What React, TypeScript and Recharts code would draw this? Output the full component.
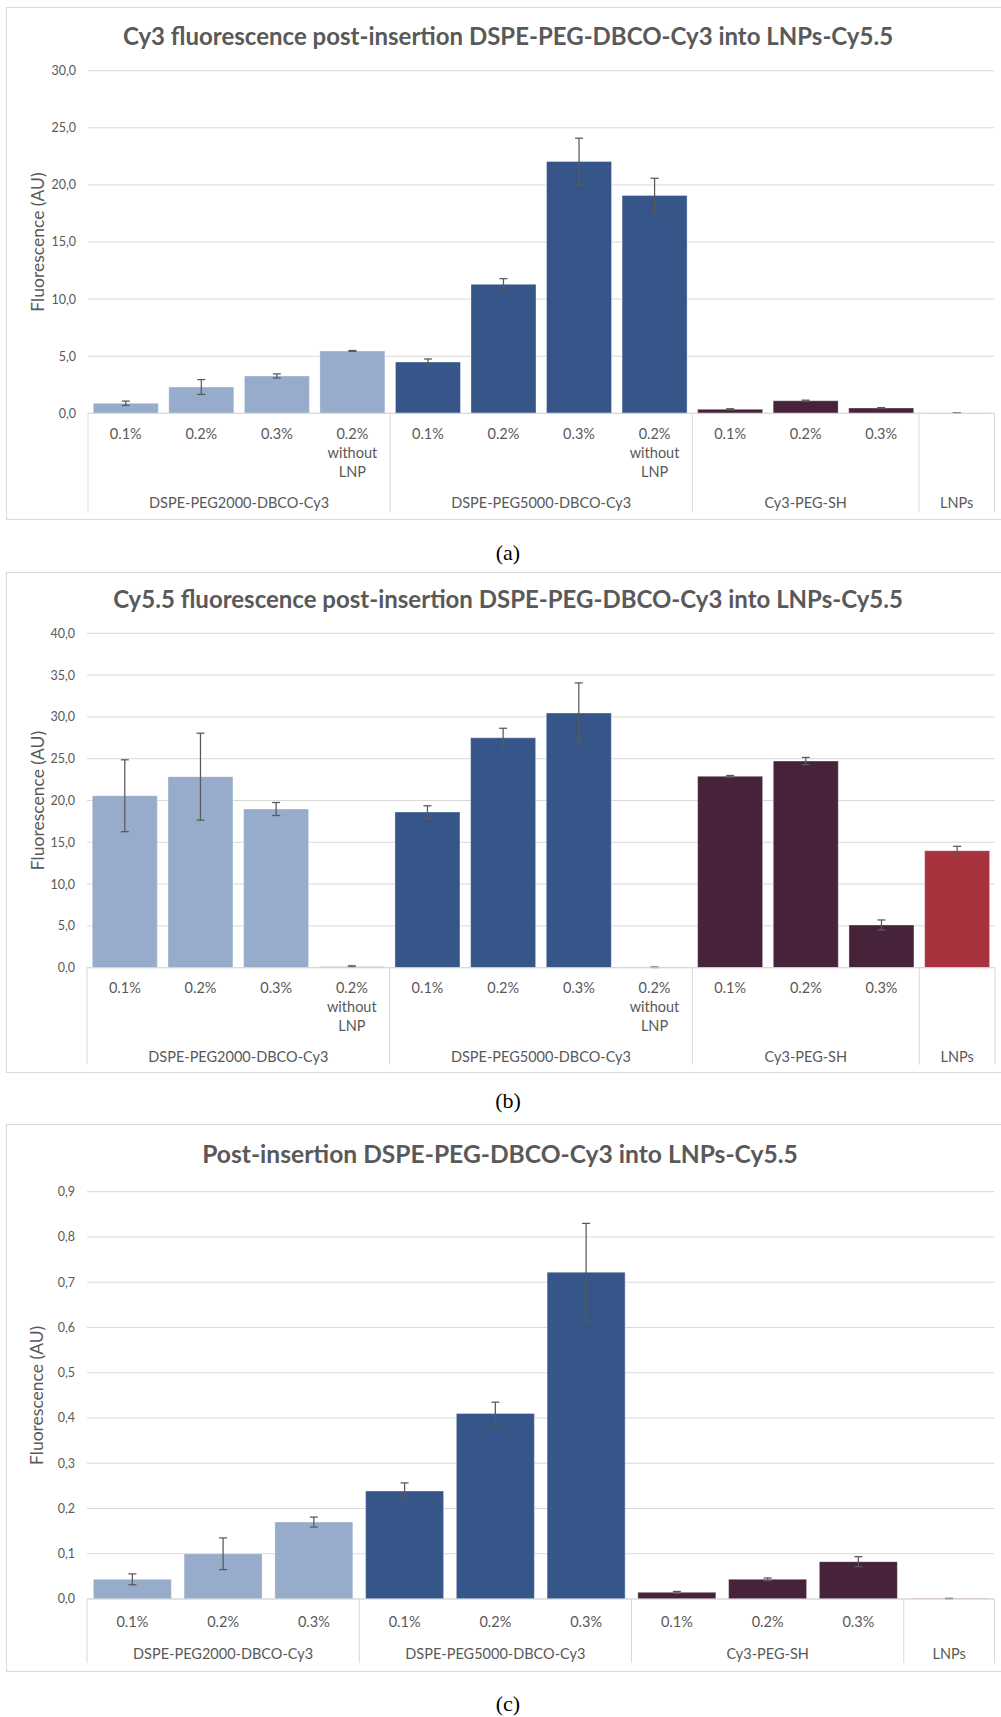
import React from "react";
import {
  BarChart,
  Bar,
  XAxis,
  YAxis,
  CartesianGrid,
  ErrorBar,
  Cell,
} from "recharts";

const FONT = "Lato, 'Open Sans', sans-serif";
const TEXT = "#595959";
const GRID = "#d9d9d9";
const GROUP_COLORS = ["#96acca", "#365589", "#46233a", "#a8333e"];

const groupNames = [
  "DSPE-PEG2000-DBCO-Cy3",
  "DSPE-PEG5000-DBCO-Cy3",
  "Cy3-PEG-SH",
  "LNPs",
];

// (a) Cy3 fluorescence
const labelsA = [
  "0.1%", "0.2%", "0.3%", "0.2%\nwithout\nLNP",
  "0.1%", "0.2%", "0.3%", "0.2%\nwithout\nLNP",
  "0.1%", "0.2%", "0.3%",
  "",
];
const groupOfA = [0, 0, 0, 0, 1, 1, 1, 1, 2, 2, 2, 3];
const valuesA = [0.88, 2.3, 3.27, 5.46, 4.49, 11.29, 22.05, 19.08, 0.35, 1.1, 0.46, 0.02];
const errorsA = [0.19, 0.65, 0.18, 0.04, 0.27, 0.5, 2.04, 1.5, 0.05, 0.05, 0.04, 0.01];
const ticksA = [0, 5, 10, 15, 20, 25, 30];

// (b) Cy5.5 fluorescence
const labelsB = labelsA;
const groupOfB = groupOfA;
const valuesB = [20.57, 22.85, 18.98, 0.15, 18.62, 27.5, 30.47, 0.05, 22.9, 24.72, 5.11, 14.0];
const errorsB = [4.3, 5.2, 0.78, 0.08, 0.75, 1.14, 3.6, 0.03, 0.1, 0.43, 0.6, 0.52];
const ticksB = [0, 5, 10, 15, 20, 25, 30, 35, 40];

// (c) ratio
const labelsC = [
  "0.1%", "0.2%", "0.3%",
  "0.1%", "0.2%", "0.3%",
  "0.1%", "0.2%", "0.3%",
  "",
];
const groupOfC = [0, 0, 0, 1, 1, 1, 2, 2, 2, 3];
const valuesC = [0.0435, 0.1, 0.17, 0.2386, 0.41, 0.722, 0.0147, 0.0435, 0.0825, 0.001];
const errorsC = [0.012, 0.035, 0.011, 0.018, 0.025, 0.108, 0.002, 0.003, 0.011, 0.0005];
const ticksC = [0, 0.1, 0.2, 0.3, 0.4, 0.5, 0.6, 0.7, 0.8, 0.9];

interface Row {
  id: string;
  label: string;
  group: number;
  value: number;
  err: number;
}

function buildRows(labels: string[], groupOf: number[], values: number[], errors: number[]): Row[] {
  return labels.map((label, i) => ({
    id: String(i),
    label,
    group: groupOf[i],
    value: values[i],
    err: errors[i],
  }));
}

const fmt = (v: number) => v.toFixed(1).replace(".", ",");

interface PanelProps {
  title: string;
  rows: Row[];
  ticks: number[];
  top: number;
  height: number;
  marginTop: number;
  plotHeight: number;
  plotLeft: number;
  plotRight: number;
  axisHeight: number;
  titleX: number;
  titleY: number;
  titleSize: number;
  firstLine: number;
  groupLine: number;
  sepLen: number;
}

function Panel(p: PanelProps) {
  const width = 1001;
  const marginBottom = p.height - p.marginTop - p.plotHeight - p.axisHeight;
  const plotWidth = p.plotRight - p.plotLeft;
  const band = plotWidth / p.rows.length;
  const domainMax = p.ticks[p.ticks.length - 1];

  // two-level category axis: sub label, group separators and group name
  const renderTick = (t: any) => {
    const index: number = t.index ?? t.payload?.index ?? 0;
    const row = p.rows[index];
    if (!row) return <g />;
    const x: number = t.x;
    const y: number = t.y;
    const isFirst = index === 0 || p.rows[index - 1].group !== row.group;
    const isLast = index === p.rows.length - 1;
    const size = p.rows.filter((r) => r.group === row.group).length;
    const lines = row.label ? row.label.split("\n") : [];
    const left = x - band / 2;
    return (
      <g>
        {lines.map((s, k) => (
          <text
            key={k}
            x={x}
            y={y + p.firstLine + k * 19}
            textAnchor="middle"
            fill={TEXT}
            fontSize={14.5}
            fontFamily={FONT}
          >
            {s}
          </text>
        ))}
        {isFirst && (
          <line x1={left} x2={left} y1={y} y2={y + p.sepLen} stroke={GRID} />
        )}
        {isLast && (
          <line x1={x + band / 2} x2={x + band / 2} y1={y} y2={y + p.sepLen} stroke={GRID} />
        )}
        {isFirst && (
          <text
            x={left + (size * band) / 2}
            y={y + p.groupLine}
            textAnchor="middle"
            fill={TEXT}
            fontSize={14.5}
            fontFamily={FONT}
          >
            {groupNames[row.group]}
          </text>
        )}
      </g>
    );
  };

  const renderYLabel = (lp: any) => {
    const vb = lp.viewBox ?? { y: p.marginTop, height: p.plotHeight };
    const cx = 37;
    const cy = vb.y + vb.height / 2;
    return (
      <text
        x={cx}
        y={cy}
        transform={`rotate(-90 ${cx} ${cy})`}
        textAnchor="middle"
        dominantBaseline="central"
        fill={TEXT}
        fontSize={17.5}
        fontFamily={FONT}
      >
        Fluorescence (AU)
      </text>
    );
  };

  return (
    <div style={{ position: "absolute", left: 0, top: p.top, width, height: p.height }}>
      <div
        style={{
          position: "absolute",
          left: 6,
          top: 0,
          width: 1010,
          height: p.height,
          border: `1px solid ${GRID}`,
          boxSizing: "border-box",
        }}
      />
      <svg width={width} height={p.height} style={{ position: "absolute", left: 0, top: 0 }}>
        <text
          x={p.titleX}
          y={p.titleY}
          textAnchor="middle"
          fill={TEXT}
          fontSize={p.titleSize}
          fontWeight={700}
          fontFamily={FONT}
        >
          {p.title}
        </text>
      </svg>
      <div style={{ position: "absolute", left: 0, top: 0 }}>
        <BarChart
          width={width}
          height={p.height}
          data={p.rows}
          margin={{ top: p.marginTop, right: width - p.plotRight, bottom: marginBottom, left: 0 }}
          barCategoryGap="7%"
        >
          <CartesianGrid vertical={false} stroke={GRID} />
          <XAxis
            dataKey="id"
            interval={0}
            height={p.axisHeight}
            tickLine={false}
            tickSize={0}
            tickMargin={0}
            axisLine={{ stroke: GRID }}
            tick={renderTick}
          />
          <YAxis
            width={p.plotLeft}
            domain={[0, domainMax]}
            ticks={p.ticks}
            tickFormatter={fmt}
            axisLine={false}
            tickLine={false}
            tickSize={0}
            tickMargin={12}
            tick={{ fill: TEXT, fontSize: 12.5, fontFamily: FONT }}
            label={renderYLabel}
          />
          <Bar dataKey="value" isAnimationActive={false} stroke="#ffffff" strokeOpacity={0.35}>
            {p.rows.map((r) => (
              <Cell key={r.id} fill={GROUP_COLORS[r.group]} />
            ))}
            <ErrorBar
              dataKey="err"
              width={4}
              stroke="#595959"
              strokeWidth={1.25}
              isAnimationActive={false}
            />
          </Bar>
        </BarChart>
      </div>
    </div>
  );
}

function Caption({ y, text }: { y: number; text: string }) {
  return (
    <text
      x={508}
      y={y}
      textAnchor="middle"
      fill="#000"
      fontSize={22}
      fontFamily="'Liberation Serif', 'Times New Roman', serif"
    >
      {text}
    </text>
  );
}

export default function App() {
  const rowsA = buildRows(labelsA, groupOfA, valuesA, errorsA);
  const rowsB = buildRows(labelsB, groupOfB, valuesB, errorsB);
  const rowsC = buildRows(labelsC, groupOfC, valuesC, errorsC);

  return (
    <div
      style={{
        position: "absolute",
        left: 0,
        top: 0,
        width: 1001,
        height: 1717,
        overflow: "hidden",
        background: "#fff",
      }}
    >
      <Panel
        title="Cy3 fluorescence post-insertion DSPE-PEG-DBCO-Cy3 into LNPs-Cy5.5"
        rows={rowsA}
        ticks={ticksA}
        top={7}
        height={513}
        marginTop={63.7}
        plotHeight={342.6}
        plotLeft={88}
        plotRight={994.5}
        axisHeight={100}
        titleX={508}
        titleY={38}
        titleSize={24}
        firstLine={25.7}
        groupLine={94.4}
        sepLen={99}
      />
      <Panel
        title="Cy5.5 fluorescence post-insertion DSPE-PEG-DBCO-Cy3 into LNPs-Cy5.5"
        rows={rowsB}
        ticks={ticksB}
        top={572}
        height={501}
        marginTop={61.3}
        plotHeight={334.4}
        plotLeft={87}
        plotRight={995}
        axisHeight={100}
        titleX={508}
        titleY={36}
        titleSize={24}
        firstLine={25.3}
        groupLine={94}
        sepLen={97}
      />
      <Panel
        title="Post-insertion DSPE-PEG-DBCO-Cy3 into LNPs-Cy5.5"
        rows={rowsC}
        ticks={ticksC}
        top={1124}
        height={548}
        marginTop={67.7}
        plotHeight={407.3}
        plotLeft={87}
        plotRight={994.5}
        axisHeight={68}
        titleX={500}
        titleY={39.3}
        titleSize={24.6}
        firstLine={27.5}
        groupLine={60}
        sepLen={64}
      />
      <svg width={1001} height={1717} style={{ position: "absolute", left: 0, top: 0, pointerEvents: "none" }}>
        <Caption y={560} text="(a)" />
        <Caption y={1108} text="(b)" />
        <Caption y={1711} text="(c)" />
      </svg>
    </div>
  );
}
